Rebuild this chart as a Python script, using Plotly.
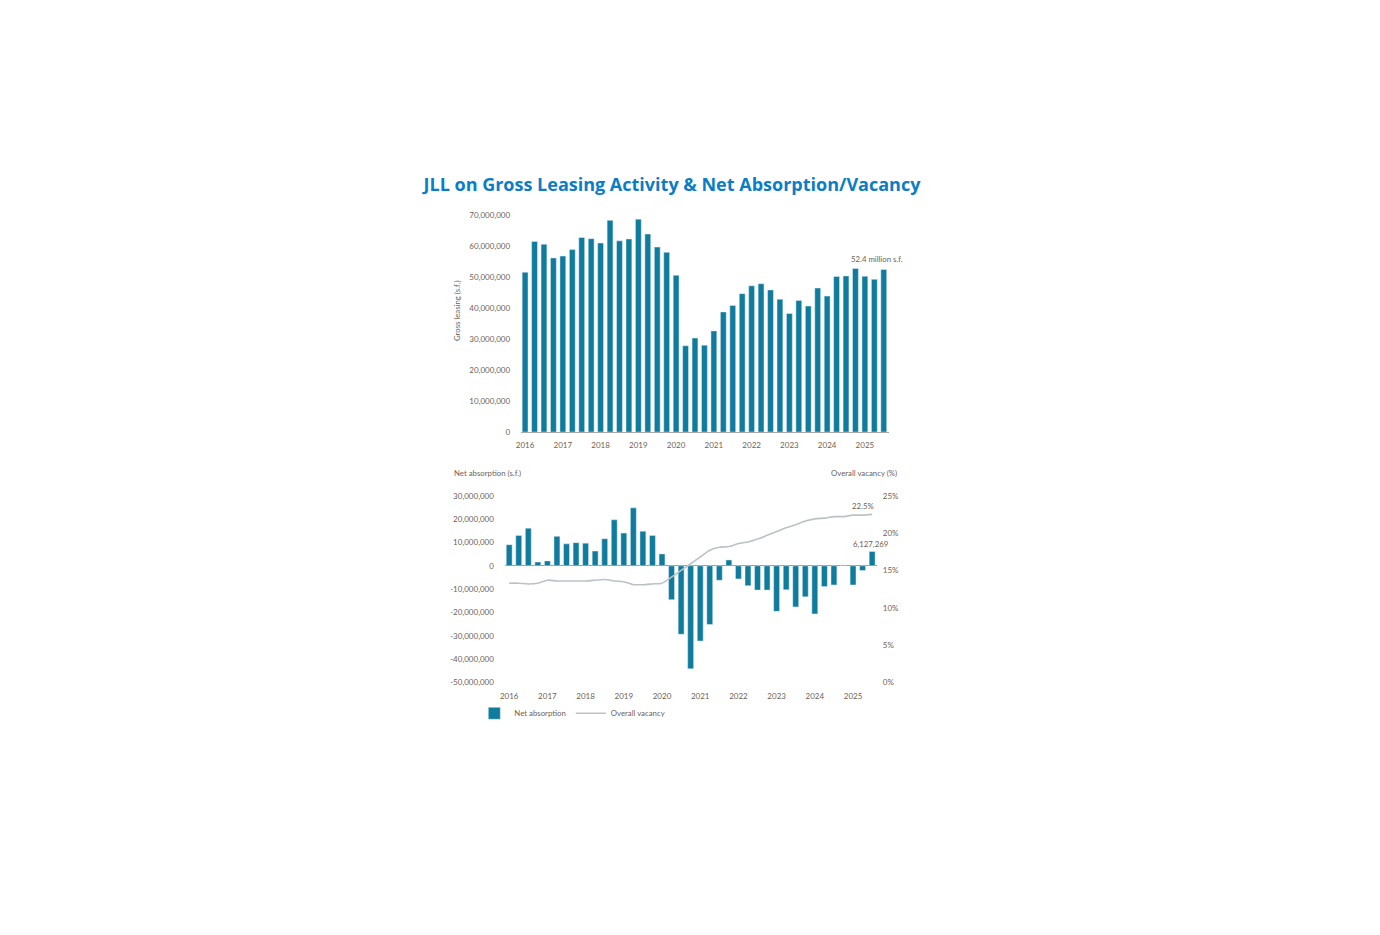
import plotly.graph_objects as go

# quarters 2016 Q1 .. 2025 Q3
years = [str(y) for y in range(2016, 2026)]
quarters = [f"{y} Q{q}" for y in years for q in (1, 2, 3, 4)][:39]

# gross leasing (s.f.)
gross_leasing = [
    51.5e6, 61.4e6, 60.5e6, 56.1e6,
    56.7e6, 58.8e6, 62.7e6, 62.3e6,
    60.9e6, 68.2e6, 61.6e6, 62.2e6,
    68.6e6, 63.8e6, 59.6e6, 57.9e6,
    50.5e6, 27.8e6, 30.3e6, 28.0e6,
    32.6e6, 38.7e6, 40.8e6, 44.6e6,
    47.1e6, 47.8e6, 45.8e6, 42.8e6,
    38.2e6, 42.4e6, 40.6e6, 46.4e6,
    43.8e6, 50.1e6, 50.3e6, 52.7e6,
    50.2e6, 49.2e6, 52.4e6,
]

# net absorption (s.f.)
net_absorption = [
    9.0e6, 13.0e6, 16.1e6, 1.6e6,
    2.1e6, 12.6e6, 9.4e6, 9.9e6,
    9.7e6, 6.3e6, 11.6e6, 19.7e6,
    14.0e6, 24.8e6, 14.8e6, 13.0e6,
    5.1e6, -14.5e6, -29.3e6, -44.1e6,
    -32.2e6, -25.1e6, -6.2e6, 2.5e6,
    -5.6e6, -8.5e6, -10.4e6, -10.4e6,
    -19.5e6, -10.3e6, -17.6e6, -13.3e6,
    -20.6e6, -8.9e6, -8.2e6, 0.3e6,
    -8.2e6, -2.0e6, 6127269,
]

# overall vacancy (%)
vacancy = [
    13.3, 13.3, 13.2, 13.3,
    13.7, 13.6, 13.6, 13.6,
    13.6, 13.7, 13.8, 13.6,
    13.5, 13.1, 13.1, 13.2,
    13.3, 14.1, 15.0, 15.9,
    16.8, 17.7, 18.1, 18.2,
    18.6, 18.8, 19.2, 19.7,
    20.2, 20.7, 21.1, 21.6,
    21.9, 22.0, 22.2, 22.2,
    22.4, 22.4, 22.5,
]

year_ticks = [f"{y} Q1" for y in years]
gross_ticks = [0, 10e6, 20e6, 30e6, 40e6, 50e6, 60e6, 70e6]
net_ticks = [-50e6, -40e6, -30e6, -20e6, -10e6, 0, 10e6, 20e6, 30e6]
vac_ticks = [0, 5, 10, 15, 20, 25]

BAR = "#0f7b9d"
LINE = "#b9c3c6"
TICK = "#6f6256"
FONT = "Lato"
OFF = 8  # page body margin
W, H = 1380 - 2 * OFF, 935 - 2 * OFF


def px_x(a, b):
    return [(a - OFF) / W, (b - OFF) / W]


def px_y(top, bottom):
    return [1 - (bottom - OFF) / H, 1 - (top - OFF) / H]


def fx(a):
    return (a - OFF) / W


def fy(a):
    return 1 - (a - OFF) / H


fig = go.Figure()

fig.add_trace(go.Bar(x=quarters, y=gross_leasing, marker_color=BAR, showlegend=False,
                     xaxis="x", yaxis="y"))
fig.add_trace(go.Bar(x=quarters, y=net_absorption, marker_color=BAR, name="Net absorption",
                     xaxis="x2", yaxis="y2"))
fig.add_trace(go.Scatter(x=quarters, y=vacancy, mode="lines", name="Overall vacancy",
                         line=dict(color=LINE, width=1.6, shape="spline", smoothing=0.6),
                         xaxis="x2", yaxis="y3"))

tickfont = dict(family=FONT, size=8, color=TICK)
small = dict(family=FONT, size=7.8, color=TICK)

fig.update_layout(
    width=W, height=H,
    margin=dict(l=0, r=0, t=0, b=0),
    paper_bgcolor="white", plot_bgcolor="white",
    font=dict(family=FONT, color=TICK),
    bargap=0.38,
    title=dict(text="<b>JLL on Gross Leasing Activity & Net Absorption/Vacancy</b>",
               x=fx(672), xanchor="center", y=fy(185), yanchor="middle",
               font=dict(family="Open Sans", size=18, color="#0b7dc6")),
    xaxis=dict(domain=px_x(518, 887), type="category", range=[-0.42, 38.53],
               tickvals=year_ticks, ticktext=years, tickangle=0, tickfont=tickfont,
               showline=True, linecolor="#a9a9a9", linewidth=1, ticks="", showgrid=False,
               ticklabelstandoff=5, anchor="y"),
    yaxis=dict(domain=px_y(212, 431.7), range=[0, 70e6], tickvals=gross_ticks,
               ticktext=[f"{v:,.0f}" for v in gross_ticks], tickfont=tickfont,
               showgrid=False, zeroline=False, ticks="", ticklabelstandoff=10, anchor="x"),
    xaxis2=dict(domain=px_x(501.7, 875), type="category", range=[-0.45, 38.49],
                tickvals=year_ticks, ticktext=years, tickangle=0, tickfont=tickfont,
                showline=False, ticks="", showgrid=False, ticklabelstandoff=7, anchor="y2"),
    yaxis2=dict(domain=px_y(496, 685), range=[-50e6, 30e6], tickvals=net_ticks,
                ticktext=[f"{v:,.0f}" for v in net_ticks],
                tickfont=tickfont, showgrid=False, zeroline=True, zerolinecolor="#9a9a9a",
                zerolinewidth=1, ticks="", ticklabelstandoff=10, anchor="x2"),
    yaxis3=dict(overlaying="y2", side="right", range=[0, 25], tickvals=vac_ticks,
                ticktext=[f"{v}%" for v in vac_ticks], tickfont=tickfont, showgrid=False,
                zeroline=False, ticks="", ticklabelstandoff=5, anchor="x2"),
    legend=dict(orientation="h", x=fx(471), xanchor="left", y=fy(716), yanchor="middle",
                font=small, itemwidth=30, bgcolor="rgba(0,0,0,0)"),
    annotations=[
        dict(text="Gross leasing (s.f.)", textangle=-90, x=fx(453), y=fy(309),
             xanchor="center", yanchor="middle",
             xref="paper", yref="paper", showarrow=False, font=small),
        dict(text="52.4 million s.f.", x=quarters[-1], y=gross_leasing[-1], xref="x", yref="y",
             yshift=10, xshift=-7, showarrow=False, font=small),
        dict(text="Net absorption (s.f.)", x=fx(449), y=fy(473), xanchor="left",
             yanchor="middle", xref="paper", yref="paper", showarrow=False, font=small),
        dict(text="Overall vacancy (%)", x=fx(897), y=fy(473), xanchor="right",
             yanchor="middle", xref="paper", yref="paper", showarrow=False, font=small),
        dict(text="22.5%", x=quarters[-2], y=vacancy[-1], xref="x2", yref="y3",
             yshift=8, showarrow=False, font=small),
        dict(text="6,127,269", x=quarters[-1], y=net_absorption[-1], xref="x2", yref="y2",
             yshift=7, xshift=-1, showarrow=False, font=small),
    ],
)

fig.write_html("out.html")
